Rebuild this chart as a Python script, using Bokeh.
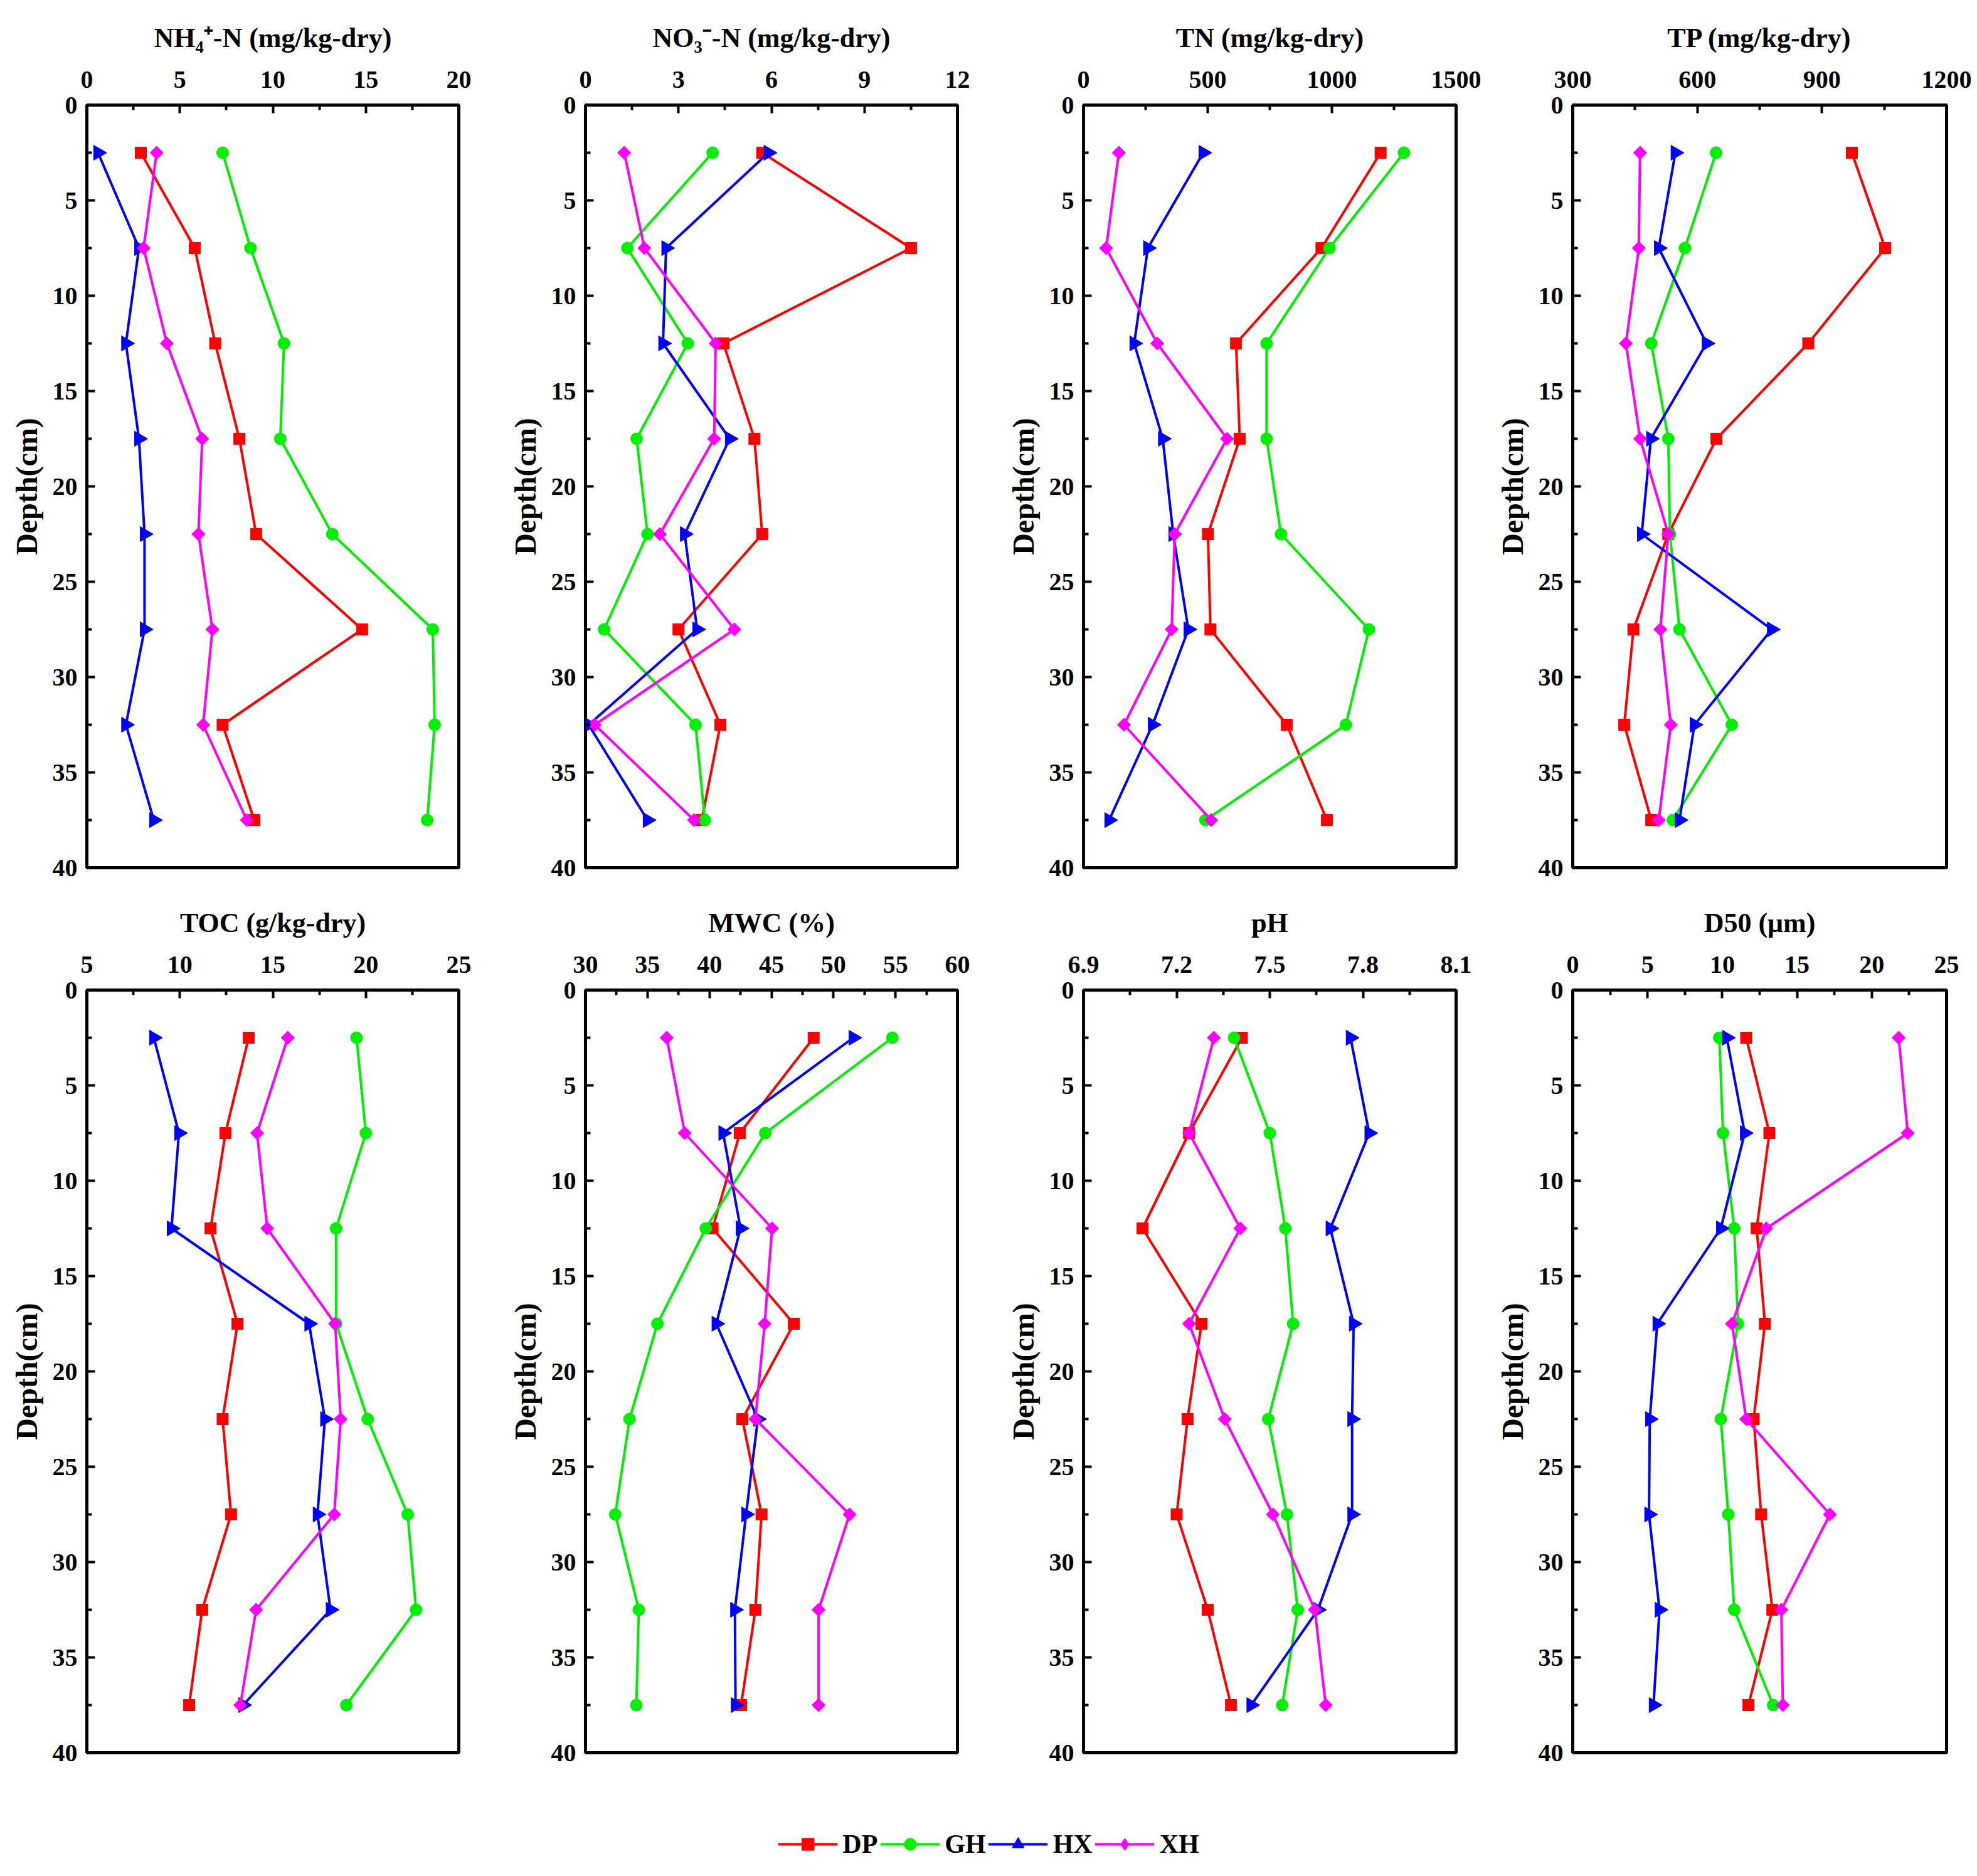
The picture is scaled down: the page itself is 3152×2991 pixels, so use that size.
import math
from bokeh.plotting import figure
from bokeh.layouts import column, row
from bokeh.models import Range1d, FixedTicker, PrintfTickFormatter, Legend, LegendItem
from bokeh.embed import file_html
from bokeh.resources import INLINE

# ---------------- data ----------------
depth = [2.5, 7.5, 12.5, 17.5, 22.5, 27.5, 32.5, 37.5]
depth_ticks = [0, 5, 10, 15, 20, 25, 30, 35, 40]
series_names = ["DP", "GH", "HX", "XH"]

nh4_dp = [2.9, 5.8, 6.9, 8.2, 9.1, 14.8, 7.3, 9.0]
nh4_gh = [7.3, 8.8, 10.6, 10.4, 13.2, 18.6, 18.7, 18.3]
nh4_hx = [0.6, 2.8, 2.1, 2.8, 3.1, 3.1, 2.1, 3.6]
nh4_xh = [3.75, 3.05, 4.3, 6.2, 6.0, 6.75, 6.25, 8.6]

no3_dp = [5.7, 10.5, 4.45, 5.45, 5.7, 3.0, 4.35, 3.75]
no3_gh = [4.1, 1.35, 3.3, 1.65, 2.0, 0.6, 3.55, 3.85]
no3_hx = [5.9, 2.6, 2.5, 4.65, 3.2, 3.6, 0.1, 2.0]
no3_xh = [1.25, 1.9, 4.2, 4.15, 2.4, 4.8, 0.3, 3.5]

tn_dp = [1196, 958, 614, 629, 501, 511, 818, 980]
tn_gh = [1290, 990, 737, 737, 795, 1149, 1056, 491]
tn_hx = [482, 259, 204, 319, 361, 422, 278, 103]
tn_xh = [142, 91, 297, 578, 367, 355, 163, 514]

tp_dp = [972, 1052, 867, 646, 530, 446, 424, 489]
tp_gh = [645, 570, 489, 530, 534, 557, 683, 541]
tp_hx = [547, 507, 622, 488, 466, 779, 593, 557]
tp_xh = [462, 459, 428, 462, 530, 511, 536, 507]

toc_dp = [13.7, 12.45, 11.65, 13.1, 12.3, 12.75, 11.2, 10.5]
toc_gh = [19.5, 20.0, 18.4, 18.4, 20.1, 22.25, 22.7, 18.95]
toc_hx = [8.6, 9.95, 9.55, 16.95, 17.8, 17.4, 18.1, 13.4]
toc_xh = [15.8, 14.15, 14.7, 18.35, 18.65, 18.3, 14.1, 13.25]

mwc_dp = [48.4, 42.45, 40.25, 46.8, 42.65, 44.2, 43.7, 42.55]
mwc_gh = [54.75, 44.5, 39.7, 35.8, 33.55, 32.4, 34.3, 34.1]
mwc_hx = [51.6, 41.1, 42.5, 40.55, 43.9, 42.95, 42.05, 42.1]
mwc_xh = [36.55, 38.0, 45.05, 44.45, 43.7, 51.3, 48.8, 48.8]

ph_dp = [7.41, 7.24, 7.09, 7.28, 7.235, 7.2, 7.30, 7.375]
ph_gh = [7.385, 7.50, 7.55, 7.575, 7.495, 7.555, 7.59, 7.54]
ph_hx = [7.76, 7.82, 7.695, 7.77, 7.765, 7.765, 7.655, 7.44]
ph_xh = [7.32, 7.24, 7.405, 7.24, 7.355, 7.51, 7.645, 7.68]

d50_dp = [11.6, 13.15, 12.3, 12.85, 12.1, 12.6, 13.35, 11.75]
d50_gh = [9.8, 10.05, 10.8, 11.05, 9.9, 10.4, 10.8, 13.4]
d50_hx = [10.3, 11.5, 9.9, 5.65, 5.15, 5.1, 5.8, 5.4]
d50_xh = [21.8, 22.4, 12.95, 10.65, 11.6, 17.2, 13.95, 14.05]

titles = ["NH\u2084\u207a-N (mg/kg-dry)", "NO\u2083\u207b-N (mg/kg-dry)", "TN (mg/kg-dry)", "TP (mg/kg-dry)",
          "TOC (g/kg-dry)", "MWC (%)", "pH", "D50 (\u03bcm)"]
x_ticks = [[0, 5, 10, 15, 20], [0, 3, 6, 9, 12], [0, 500, 1000, 1500], [300, 600, 900, 1200],
           [5, 10, 15, 20, 25], [30, 35, 40, 45, 50, 55, 60], [6.9, 7.2, 7.5, 7.8, 8.1], [0, 5, 10, 15, 20, 25]]
panel_values = [
    [nh4_dp, nh4_gh, nh4_hx, nh4_xh],
    [no3_dp, no3_gh, no3_hx, no3_xh],
    [tn_dp, tn_gh, tn_hx, tn_xh],
    [tp_dp, tp_gh, tp_hx, tp_xh],
    [toc_dp, toc_gh, toc_hx, toc_xh],
    [mwc_dp, mwc_gh, mwc_hx, mwc_xh],
    [ph_dp, ph_gh, ph_hx, ph_xh],
    [d50_dp, d50_gh, d50_hx, d50_xh],
]

# ---------------- styles ----------------
FONT = "Liberation Serif"
colors = ["#FF0000", "#00EE00", "#0000FF", "#FF00FF"]
markers = ["square", "circle", "triangle", "square"]
legend_markers = ["square", "circle", "triangle", "diamond"]
msizes = [18, 19, 24, 15]
angles = [0, 0, -math.pi / 2, math.pi / 4]
LINE_W = 4

# column geometry: (figure width, left border, right border)
col_geom = [(770, 138, 39), (795, 163, 39), (800, 162, 44), (787, 142, 49)]
ROW_H = 1411


def midpoints(t):
    return [(t[k] + t[k + 1]) / 2 for k in range(len(t) - 1)]


def make_panel(i):
    w, bl, br = col_geom[i % 4]
    ticks = x_ticks[i]
    p = figure(width=w, height=ROW_H, x_range=Range1d(ticks[0], ticks[-1]), y_range=Range1d(40, 0),
               x_axis_location="above", output_backend="svg", toolbar_location=None,
               min_border_left=bl, min_border_right=br, min_border_top=167, min_border_bottom=28)
    p.background_fill_color = "white"
    p.border_fill_color = "white"
    p.xgrid.visible = False
    p.ygrid.visible = False
    p.outline_line_color = "black"
    p.outline_line_width = 5
    p.outline_line_alpha = 1.0

    p.xaxis.ticker = FixedTicker(ticks=ticks, minor_ticks=midpoints(ticks))
    p.yaxis.ticker = FixedTicker(ticks=depth_ticks, minor_ticks=midpoints(depth_ticks))
    if i == 6:
        p.xaxis.formatter = PrintfTickFormatter(format="%.1f")
    p.xaxis.axis_label = titles[i]
    p.yaxis.axis_label = "Depth(cm)"
    for ax in (p.xaxis, p.yaxis):
        ax.axis_line_color = None
        ax.major_tick_in = 13
        ax.major_tick_out = 0
        ax.minor_tick_in = 8
        ax.minor_tick_out = 0
        ax.major_tick_line_width = 4
        ax.minor_tick_line_width = 4
        ax.major_tick_line_color = "black"
        ax.minor_tick_line_color = "black"
        ax.major_label_text_font = FONT
        ax.major_label_text_font_style = "bold"
        ax.major_label_text_font_size = "40px"
        ax.major_label_text_color = "black"
        ax.axis_label_text_font = FONT
        ax.axis_label_text_font_style = "bold"
        ax.axis_label_text_color = "black"
    p.xaxis.major_label_standoff = 28
    p.xaxis.axis_label_standoff = 26
    p.xaxis.axis_label_text_font_size = "44px"
    p.yaxis.major_label_standoff = 15
    p.yaxis.axis_label_standoff = 12
    p.yaxis.axis_label_text_font_size = "48px"

    for k in range(4):
        vals = panel_values[i][k]
        p.line(vals, depth, line_color=colors[k], line_width=LINE_W)
        p.scatter(vals, depth, marker=markers[k], size=msizes[k], angle=angles[k],
                  fill_color=colors[k], line_color=colors[k], line_width=1)
    return p


panels = [make_panel(i) for i in range(8)]

# ---------------- legend ----------------
leg_fig = figure(width=3152, height=169, x_range=Range1d(0, 1), y_range=Range1d(0, 1),
                 output_backend="svg", toolbar_location=None,
                 min_border_left=0, min_border_right=0, min_border_top=66, min_border_bottom=0)
leg_fig.axis.visible = False
leg_fig.xgrid.visible = False
leg_fig.ygrid.visible = False
leg_fig.outline_line_color = None
nan_pt = [float("nan")]
items = []
for k in range(4):
    lr = leg_fig.line(x=nan_pt, y=nan_pt, line_color=colors[k], line_width=LINE_W)
    sr = leg_fig.scatter(x=nan_pt, y=nan_pt, marker=legend_markers[k], size=msizes[k],
                         fill_color=colors[k], line_color=colors[k])
    items.append(LegendItem(label=series_names[k], renderers=[lr, sr]))
legend = Legend(items=items, orientation="horizontal", location="center",
                glyph_width=95, glyph_height=48, label_standoff=8, spacing=4, padding=0, margin=0,
                border_line_color=None, background_fill_alpha=0,
                label_text_font=FONT, label_text_font_style="bold", label_text_font_size="42px",
                label_text_color="black")
leg_fig.add_layout(legend, "center")

layout = column(row(*panels[:4]), row(*panels[4:]), leg_fig)

open("out.html", "w").write(file_html(layout, INLINE))
